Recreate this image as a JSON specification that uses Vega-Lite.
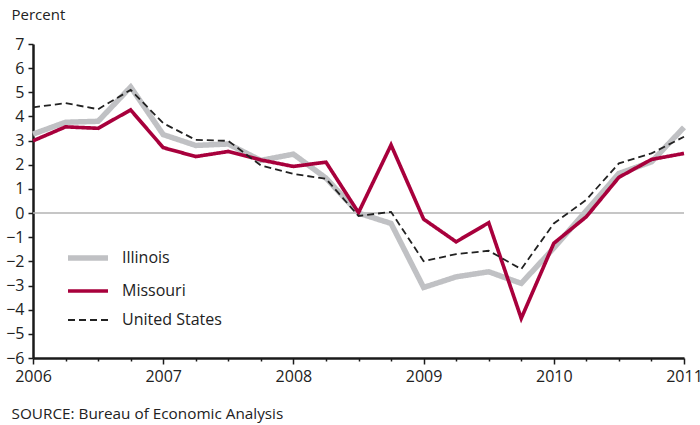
{
  "$schema": "https://vega.github.io/schema/vega-lite/v6.json",
  "autosize": "none",
  "width": 651,
  "height": 314,
  "padding": {"left": 33, "top": 44, "right": 16, "bottom": 67},
  "background": "white",
  "config": {
    "view": {"stroke": null},
    "font": "Open Sans",
    "axis": {"labelFont": "Open Sans", "titleFont": "Open Sans", "labelColor": "#222", "titleColor": "#222"},
    "legend": {"labelFont": "Open Sans"}
  },
  "datasets": {
    "series": [
      {"t": 2006.00, "s": "Illinois", "v": 3.27},
      {"t": 2006.25, "s": "Illinois", "v": 3.76},
      {"t": 2006.50, "s": "Illinois", "v": 3.8},
      {"t": 2006.75, "s": "Illinois", "v": 5.22},
      {"t": 2007.00, "s": "Illinois", "v": 3.25},
      {"t": 2007.25, "s": "Illinois", "v": 2.8},
      {"t": 2007.50, "s": "Illinois", "v": 2.86},
      {"t": 2007.75, "s": "Illinois", "v": 2.18},
      {"t": 2008.00, "s": "Illinois", "v": 2.44},
      {"t": 2008.25, "s": "Illinois", "v": 1.45},
      {"t": 2008.50, "s": "Illinois", "v": 0.0},
      {"t": 2008.75, "s": "Illinois", "v": -0.43},
      {"t": 2009.00, "s": "Illinois", "v": -3.08},
      {"t": 2009.25, "s": "Illinois", "v": -2.64},
      {"t": 2009.50, "s": "Illinois", "v": -2.43},
      {"t": 2009.75, "s": "Illinois", "v": -2.91},
      {"t": 2010.00, "s": "Illinois", "v": -1.45},
      {"t": 2010.25, "s": "Illinois", "v": 0.1},
      {"t": 2010.50, "s": "Illinois", "v": 1.64},
      {"t": 2010.75, "s": "Illinois", "v": 2.12},
      {"t": 2011.00, "s": "Illinois", "v": 3.55},
      {"t": 2006.00, "s": "Missouri", "v": 2.99},
      {"t": 2006.25, "s": "Missouri", "v": 3.57},
      {"t": 2006.50, "s": "Missouri", "v": 3.51},
      {"t": 2006.75, "s": "Missouri", "v": 4.27},
      {"t": 2007.00, "s": "Missouri", "v": 2.71},
      {"t": 2007.25, "s": "Missouri", "v": 2.34},
      {"t": 2007.50, "s": "Missouri", "v": 2.55},
      {"t": 2007.75, "s": "Missouri", "v": 2.2},
      {"t": 2008.00, "s": "Missouri", "v": 1.93},
      {"t": 2008.25, "s": "Missouri", "v": 2.11},
      {"t": 2008.50, "s": "Missouri", "v": 0.02},
      {"t": 2008.75, "s": "Missouri", "v": 2.82},
      {"t": 2009.00, "s": "Missouri", "v": -0.25},
      {"t": 2009.25, "s": "Missouri", "v": -1.19},
      {"t": 2009.50, "s": "Missouri", "v": -0.4},
      {"t": 2009.75, "s": "Missouri", "v": -4.36},
      {"t": 2010.00, "s": "Missouri", "v": -1.25},
      {"t": 2010.25, "s": "Missouri", "v": -0.15},
      {"t": 2010.50, "s": "Missouri", "v": 1.48},
      {"t": 2010.75, "s": "Missouri", "v": 2.22},
      {"t": 2011.00, "s": "Missouri", "v": 2.47},
      {"t": 2006.00, "s": "United States", "v": 4.38},
      {"t": 2006.25, "s": "United States", "v": 4.55},
      {"t": 2006.50, "s": "United States", "v": 4.3},
      {"t": 2006.75, "s": "United States", "v": 5.1},
      {"t": 2007.00, "s": "United States", "v": 3.72},
      {"t": 2007.25, "s": "United States", "v": 3.03},
      {"t": 2007.50, "s": "United States", "v": 2.99},
      {"t": 2007.75, "s": "United States", "v": 1.97},
      {"t": 2008.00, "s": "United States", "v": 1.62},
      {"t": 2008.25, "s": "United States", "v": 1.42},
      {"t": 2008.50, "s": "United States", "v": -0.12},
      {"t": 2008.75, "s": "United States", "v": 0.05},
      {"t": 2009.00, "s": "United States", "v": -1.99},
      {"t": 2009.25, "s": "United States", "v": -1.7},
      {"t": 2009.50, "s": "United States", "v": -1.56},
      {"t": 2009.75, "s": "United States", "v": -2.32},
      {"t": 2010.00, "s": "United States", "v": -0.43},
      {"t": 2010.25, "s": "United States", "v": 0.55},
      {"t": 2010.50, "s": "United States", "v": 2.06},
      {"t": 2010.75, "s": "United States", "v": 2.47},
      {"t": 2011.00, "s": "United States", "v": 3.16}
    ],
    "zero": [{"v": 0}]
  },
  "encoding": {
    "y": {
      "field": "v", "type": "quantitative",
      "scale": {"domain": [-6, 7], "nice": false, "zero": false},
      "axis": {
        "values": [-6, -5, -4, -3, -2, -1, 0, 1, 2, 3, 4, 5, 6, 7],
        "grid": false, "labelOverlap": false, "labelFlush": false,
        "domainColor": "#1a1a1a", "domainWidth": 2.5,
        "tickColor": "#1a1a1a", "tickWidth": 1.5, "tickSize": 5,
        "labelFontSize": 16, "labelPadding": 4,
        "title": "Percent",
        "titleFontSize": 15, "titleFontWeight": "normal", "titleAngle": 0,
        "titleAlign": "left", "titleBaseline": "alphabetic",
        "titleX": -22, "titleY": -25
      }
    }
  },
  "layer": [
    {
      "data": {"name": "zero"},
      "mark": {"type": "rule", "color": "#b3b3b3", "strokeWidth": 1.5}
    },
    {
      "data": {"name": "series"},
      "mark": {"type": "line", "strokeJoin": "miter", "strokeCap": "butt"},
      "encoding": {
        "x": {
          "field": "t", "type": "quantitative",
          "scale": {"domain": [2006, 2011], "nice": false, "zero": false},
          "axis": {
            "values": [2006, 2006.25, 2006.5, 2006.75, 2007, 2007.25, 2007.5, 2007.75, 2008, 2008.25, 2008.5, 2008.75, 2009, 2009.25, 2009.5, 2009.75, 2010, 2010.25, 2010.5, 2010.75, 2011],
            "labelExpr": "datum.value % 1 === 0 ? format(datum.value, 'd') : ''",
            "grid": false,
            "domainColor": "#1a1a1a", "domainWidth": 2.5,
            "tickColor": "#1a1a1a", "tickWidth": 1.5,
            "tickSize": {"condition": {"test": "datum.value % 1 === 0", "value": 6}, "value": 3},
            "labelFontSize": 16, "labelPadding": 4, "labelFlush": false, "labelOverlap": false,
            "title": "SOURCE: Bureau of Economic Analysis",
            "titleFontSize": 15.3, "titleFontWeight": "normal",
            "titleAnchor": "start", "titleAlign": "left", "titleBaseline": "alphabetic",
            "titleX": -22, "titleY": 60
          }
        },
        "color": {
          "field": "s", "type": "nominal",
          "scale": {"domain": ["Illinois", "Missouri", "United States"], "range": ["#c0c1c4", "#a8003c", "#222222"]},
          "legend": {
            "title": null, "orient": "none", "legendX": 32, "legendY": 191,
            "symbolType": "stroke", "symbolSize": 1600,
            "labelFontSize": 16, "labelColor": "#222", "labelOffset": 11,
            "rowPadding": 0
          }
        },
        "strokeWidth": {
          "field": "s", "type": "nominal",
          "scale": {"domain": ["Illinois", "Missouri", "United States"], "range": [5.5, 1.8, 2.3]},
          "legend": null
        },
        "strokeDash": {
          "field": "s", "type": "nominal",
          "scale": {"domain": ["Illinois", "Missouri", "United States"], "range": [[1, 0], [1, 0], [7, 4]]},
          "legend": null
        }
      }
    }
  ]
}
